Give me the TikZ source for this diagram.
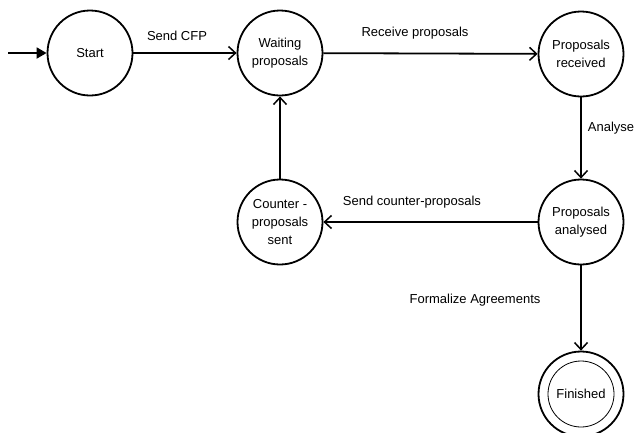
\documentclass[tikz,border=0pt]{standalone}
\usepackage{fontspec}
\setmainfont{Liberation Sans}
\usetikzlibrary{arrows.meta}
\begin{document}
\begin{tikzpicture}[x=1pt,y=-1pt,
  every node/.style={font=\fontsize{13}{18}\selectfont},
  statenode/.style={circle,draw,line width=1.8pt,minimum size=85pt,inner sep=0pt,align=center},
  conn/.style={line width=1.8pt,-{Straight Barb[length=7pt,width=13pt,line width=1.5pt]}},
  lbl/.style={inner sep=0pt}]
\useasboundingbox (0,0) rectangle (636,432);
\clip (0,0) rectangle (636,432);
\node[statenode] (start) at (90,53) {Start};
\node[statenode] (wait) at (280,53) {Waiting\\proposals};
\node[statenode] (recv) at (581,54) {Proposals\\received};
\node[statenode] (anal) at (581,222) {Proposals\\analysed};
\node[statenode] (cnt) at (280,222) {Counter -\\proposals\\sent};
\node[statenode] (fin) at (581,394) {Finished};
\draw[line width=0.8pt] (fin.center) circle (33);
\coordinate (in) at (8,53);
\draw[line width=1.8pt,-{Triangle[length=10pt,width=11pt]}] (in) -- (start);
\draw[conn] (start) -- (wait);
\draw[conn] (wait) -- (recv);
\draw[conn] (recv) -- (anal);
\draw[conn] (anal) -- (cnt);
\draw[conn] (cnt) -- (wait);
\draw[conn] (anal) -- (fin);
\node[lbl] (l1) at (177,36) {Send CFP};
\node[lbl] (l2) at (415,33) {Receive proposals};
\node[lbl] (l3) at (611,128) {Analyse};
\node[lbl] (l4) at (412,202) {Send counter-proposals};
\node[lbl] (l5) at (475,300) {Formalize Agreements};
\end{tikzpicture}
\end{document}
